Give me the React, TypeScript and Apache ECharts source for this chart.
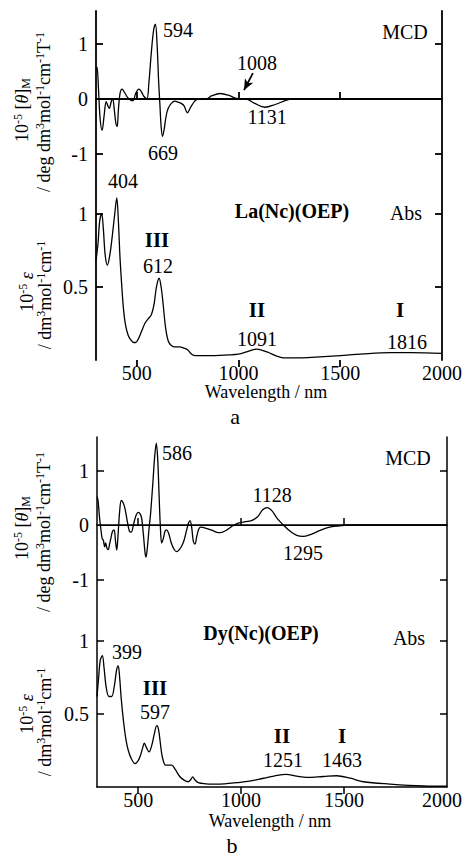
import React, { useEffect, useRef } from "react";
import * as echarts from "echarts";

// ---------- data (wavelength nm / value) ----------
const xTicks = [500, 1000, 1500];
const xLabels = [500, 1000, 1500, 2000];
const mcdTicks = [-1, 1];
const mcdLabels = [-1, 0, 1];
const absTicks = [0.5, 1];

// Panel a : La(Nc)(OEP)
const aMcdNm = [300, 305, 312, 320, 330, 340, 350, 358, 366, 374, 382, 390, 398, 404, 410, 418, 428, 440, 455, 470, 482, 495, 510, 522, 535, 550, 560, 572, 583, 592, 600, 608, 614, 620, 627, 635, 645, 655, 670, 688, 705, 718, 732, 749, 765, 785, 800, 840, 870, 910, 950, 990, 1040, 1080, 1130, 1180, 1230, 1260, 2000];
const aMcdVal = [0.55, 0.58, 0.2, -0.35, -0.57, -0.3, -0.05, -0.12, -0.17, -0.06, 0.0, -0.2, -0.45, -0.5, -0.2, 0.1, 0.18, 0.12, 0.03, -0.02, -0.03, 0.1, 0.18, 0.14, 0.05, 0.0, 0.3, 0.85, 1.25, 1.36, 1.0, 0.3, -0.1, -0.5, -0.68, -0.55, -0.3, -0.17, -0.08, -0.04, -0.06, -0.08, -0.12, -0.25, -0.15, -0.04, 0.0, 0.0, 0.06, 0.1, 0.07, 0.01, 0.0, -0.08, -0.15, -0.1, -0.03, 0, 0];
const aAbsNm = [300, 310, 318, 328, 336, 345, 356, 368, 380, 392, 402, 410, 418, 426, 435, 445, 458, 470, 485, 495, 510, 525, 540, 555, 572, 585, 597, 610, 620, 630, 642, 655, 670, 690, 710, 735, 750, 770, 790, 850, 950, 1000, 1040, 1090, 1140, 1190, 1220, 1300, 1380, 1500, 1600, 1745, 1850, 2000];
const aAbsVal = [0.68, 0.8, 0.95, 1.0, 0.9, 0.72, 0.65, 0.72, 0.85, 1.0, 1.11, 0.95, 0.7, 0.52, 0.35, 0.24, 0.17, 0.14, 0.12, 0.12, 0.15, 0.2, 0.25, 0.28, 0.31, 0.38, 0.5, 0.56, 0.5, 0.38, 0.22, 0.13, 0.1, 0.09, 0.09, 0.08, 0.07, 0.04, 0.03, 0.03, 0.035, 0.04, 0.055, 0.075, 0.055, 0.025, 0.015, 0.015, 0.02, 0.03, 0.04, 0.05, 0.05, 0.045];
const aArrow = [[1071, 0.47], [1027, 0.16]];

// Panel b : Dy(Nc)(OEP)
const bMcdNm = [300, 305, 312, 318, 325, 331, 337, 342, 348, 355, 361, 367, 375, 383, 390, 396, 402, 410, 418, 428, 436, 448, 458, 466, 478, 490, 501, 510, 517, 526, 533, 538, 545, 552, 560, 570, 580, 588, 595, 602, 608, 614, 622, 630, 638, 648, 660, 675, 687, 700, 712, 723, 735, 745, 752, 760, 768, 776, 785, 795, 805, 830, 860, 890, 910, 935, 962, 990, 1020, 1050, 1080, 1105, 1127, 1150, 1175, 1205, 1240, 1270, 1300, 1340, 1390, 1430, 1464, 1520, 2000];
const bMcdVal = [0.52, 0.45, 0.15, -0.05, -0.25, -0.28, -0.4, -0.33, -0.42, -0.45, -0.35, -0.25, -0.12, -0.09, -0.3, -0.46, -0.2, 0.25, 0.45, 0.4, 0.3, 0.05, -0.12, -0.13, 0.02, 0.18, 0.23, 0.2, 0.12, -0.2, -0.5, -0.59, -0.4, -0.1, 0.2, 0.7, 1.25, 1.5, 1.2, 0.5, -0.05, -0.33, -0.25, -0.12, -0.09, -0.15, -0.32, -0.45, -0.49, -0.45, -0.38, -0.28, -0.1, 0.04, 0.08, -0.05, -0.3, -0.35, -0.2, -0.07, -0.04, -0.06, -0.1, -0.14, -0.13, -0.08, -0.01, 0.04, 0.06, 0.08, 0.15, 0.28, 0.32, 0.26, 0.12, 0.0, -0.12, -0.19, -0.21, -0.17, -0.09, -0.04, -0.02, 0, 0];
const bAbsNm = [300, 308, 316, 326, 334, 345, 358, 371, 385, 395, 403, 410, 418, 428, 440, 452, 468, 485, 500, 512, 522, 530, 540, 553, 565, 578, 590, 598, 606, 614, 622, 632, 650, 663, 680, 703, 725, 743, 755, 765, 775, 792, 830, 864, 920, 979, 1040, 1108, 1160, 1218, 1270, 1318, 1400, 1464, 1530, 1594, 1723, 1885, 2000];
const bAbsVal = [0.62, 0.75, 0.87, 0.9, 0.82, 0.68, 0.62, 0.62, 0.7, 0.8, 0.83, 0.75, 0.6, 0.46, 0.33, 0.25, 0.19, 0.16, 0.18, 0.22, 0.27, 0.3, 0.27, 0.24, 0.28, 0.36, 0.42, 0.4, 0.32, 0.23, 0.18, 0.15, 0.15, 0.15, 0.12, 0.07, 0.045, 0.036, 0.05, 0.07, 0.05, 0.03, 0.022, 0.02, 0.022, 0.03, 0.04, 0.06, 0.075, 0.087, 0.075, 0.066, 0.072, 0.077, 0.06, 0.036, 0.02, 0.007, 0.005];

const zip = (xs: number[], ys: number[]) => xs.map((x, i) => [x, ys[i]]);

const FONT = "Liberation Serif";
const BLACK = "#000";

type Panel = {
  left: number; right: number; top: number; height: number;
  mcd0: number; mcdScale: number; absScale: number; topLine: boolean; frameW: number; maxShift: number;
};

const panels: Panel[] = [
  { left: 96, right: 23, top: 11, height: 349, mcd0: 99, mcdScale: 55, absScale: 146, topLine: false, frameW: 1.8, maxShift: 0 },
  { left: 97, right: 18, top: 437, height: 350, mcd0: 525, mcdScale: 54.5, absScale: 146, topLine: true, frameW: 1.5, maxShift: 10 },
];

const fmt = (v: number) => (v < 0 ? "-" + Math.abs(v) : String(v));

function buildOption() {
  const grid: any[] = [];
  const xAxis: any[] = [];
  const yAxis: any[] = [];
  panels.forEach((p, i) => {
    grid.push({ left: p.left, right: p.right, top: p.top, height: p.height, containLabel: false, outerBoundsMode: "none" });
    const line = { lineStyle: { color: BLACK, width: p.frameW } };
    const tick = (vals: number[]) => ({ show: true, inside: true, length: 7, customValues: vals, lineStyle: { color: BLACK, width: p.frameW } });
    xAxis.push({
      gridIndex: i, type: "value", min: 300, max: 2000, position: "bottom",
      axisLine: line, axisTick: tick(xTicks), splitLine: { show: false },
      axisLabel: {
        customValues: xLabels,
        formatter: (v: number) => (v === 2000 && p.maxShift ? "{m|" + v + "}" : String(v)),
        rich: { m: { fontFamily: FONT, fontSize: 20, color: BLACK, padding: [0, p.maxShift, 0, 0] } },
        fontFamily: FONT, fontSize: 20, color: BLACK, margin: 3,
      },
    });
    xAxis.push({
      gridIndex: i, type: "value", min: 300, max: 2000, position: "top",
      axisLine: { show: p.topLine, lineStyle: { color: BLACK, width: p.frameW } },
      axisTick: tick(xTicks), axisLabel: { show: false }, splitLine: { show: false },
    });
    const bottomPx = p.top + p.height;
    const mcdMax = (p.mcd0 - p.top) / p.mcdScale;
    const mcdMin = -(bottomPx - p.mcd0) / p.mcdScale;
    const absMax = p.height / p.absScale;
    yAxis.push({
      gridIndex: i, type: "value", min: mcdMin, max: mcdMax, position: "left",
      axisLine: { show: true, onZero: false, lineStyle: { color: BLACK, width: p.frameW } },
      axisTick: tick(mcdTicks), splitLine: { show: false },
      axisLabel: { customValues: mcdLabels, formatter: fmt, fontFamily: FONT, fontSize: 20, color: BLACK, margin: 8 },
    });
    yAxis.push({
      gridIndex: i, type: "value", min: 0, max: absMax, position: "left",
      axisLine: { show: false }, axisTick: tick(absTicks), splitLine: { show: false },
      axisLabel: { customValues: absTicks, formatter: fmt, fontFamily: FONT, fontSize: 20, color: BLACK, margin: 8 },
    });
    yAxis.push({
      gridIndex: i, type: "value", min: mcdMin, max: mcdMax, position: "right",
      axisLine: { show: true, onZero: false, lineStyle: { color: BLACK, width: p.frameW } },
      axisTick: tick(mcdTicks), axisLabel: { show: false }, splitLine: { show: false },
    });
    yAxis.push({
      gridIndex: i, type: "value", min: 0, max: absMax, position: "right",
      axisLine: { show: false }, axisTick: tick(absTicks), axisLabel: { show: false }, splitLine: { show: false },
    });
  });

  const lineSeries = (data: number[][], xi: number, yi: number, w: number, extra: any = {}) => ({
    type: "line", data, xAxisIndex: xi, yAxisIndex: yi, symbol: "none", showSymbol: false,
    smooth: 0.35, lineStyle: { color: BLACK, width: w }, silent: true, z: 3, ...extra,
  });

  const series: any[] = [
    lineSeries(zip(aMcdNm, aMcdVal), 0, 0, 1.3, {
      markLine: {
        silent: true, symbol: "none", animation: false,
        label: { show: false },
        lineStyle: { color: BLACK, width: 1.8, type: "solid" },
        data: [
          { yAxis: 0 },
          [
            { coord: aArrow[0], symbol: "none" },
            { coord: aArrow[1], symbol: "arrow", symbolSize: [7, 11] },
          ],
        ],
      },
    }),
    lineSeries(zip(aAbsNm, aAbsVal), 0, 1, 1.3),
    lineSeries(zip(bMcdNm, bMcdVal), 2, 4, 1.3, {
      markLine: {
        silent: true, symbol: "none", animation: false, label: { show: false },
        lineStyle: { color: BLACK, width: 1.2, type: "solid" },
        data: [{ yAxis: 0 }],
      },
    }),
    lineSeries(zip(bAbsNm, bAbsVal), 2, 5, 1.3),
  ];

  const t = (text: string, x: number, y: number, size = 19, bold = false, align = "center") => ({
    type: "text", x, y, silent: true, z: 10,
    style: { text, fontFamily: FONT, fontSize: size, fontWeight: bold ? "bold" : "normal", fill: BLACK, align, verticalAlign: "middle" },
  });
  const rich = {
    sup: { fontSize: 12, fontFamily: FONT, verticalAlign: "top", lineHeight: 20 },
    sub: { fontSize: 12, fontFamily: FONT, verticalAlign: "bottom", lineHeight: 20 },
    it: { fontSize: 18, fontFamily: FONT, fontStyle: "italic", lineHeight: 20 },
    n: { fontSize: 18, fontFamily: FONT, lineHeight: 20 },
  };
  const rt = (text: string, x: number, y: number) => ({
    type: "text", x, y, rotation: Math.PI / 2, silent: true, z: 10,
    style: { text, rich, fontFamily: FONT, fontSize: 18, fill: BLACK, align: "center", verticalAlign: "middle" },
  });
  const mcdT1 = "{n|10}{sup|-5}{n| [}{it|θ}{n|]}{sub|M}";
  const mcdT2 = "{n|/ deg dm}{sup|3}{n|mol}{sup|-1}{n|cm}{sup|-1}{n|T}{sup|-1}";
  const absT1 = "{n|10}{sup|-5}{n| }{it|ε}";
  const absT2 = "{n|/ dm}{sup|3}{n|mol}{sup|-1}{n|cm}{sup|-1}";

  const graphic: any[] = [
    // panel a
    t("594", 163, 30, 20, false, "left"),
    t("MCD", 405, 32, 20),
    t("1008", 257, 63, 20),
    t("1131", 267, 117, 20),
    t("669", 163, 153, 20),
    t("404", 123, 181, 20),
    t("La(Nc)(OEP)", 292, 211, 20, true),
    t("Abs", 406, 213, 20),
    t("III", 157, 240, 21, true),
    t("612", 158, 266, 20),
    t("II", 257, 310, 21, true),
    t("1091", 257, 339, 20),
    t("I", 400, 310, 21, true),
    t("1816", 407, 342, 20),
    t("Wavelength / nm", 266, 392, 18),
    t("a", 235, 416, 22),
    rt(mcdT1, 22, 110), rt(mcdT2, 44, 112),
    rt(absT1, 27, 292), rt(absT2, 45, 295),
    // panel b
    t("586", 162, 453, 20, false, "left"),
    t("MCD", 408, 458, 20),
    t("1128", 272, 495, 20),
    t("1295", 303, 553, 20),
    t("Dy(Nc)(OEP)", 261, 633, 20, true),
    t("Abs", 409, 638, 20),
    t("399", 127, 652, 20),
    t("III", 155, 688, 21, true),
    t("597", 155, 712, 20),
    t("II", 282, 736, 21, true),
    t("1251", 283, 760, 20),
    t("I", 342, 736, 21, true),
    t("1463", 342, 760, 20),
    t("Wavelength / nm", 270, 821, 18),
    t("b", 232, 845, 22),
    rt(mcdT1, 22, 528), rt(mcdT2, 44, 532),
    rt(absT1, 27, 714), rt(absT2, 45, 722),
  ];

  return { animation: false, backgroundColor: "#fff", grid, xAxis, yAxis, series, graphic };
}

export default function App() {
  const ref = useRef<HTMLDivElement>(null);
  useEffect(() => {
    if (!ref.current) return;
    const chart = echarts.init(ref.current, null, { renderer: "svg" });
    chart.setOption(buildOption() as any);
    return () => chart.dispose();
  }, []);
  return <div ref={ref} style={{ position: "absolute", left: 0, top: 0, width: 465, height: 857, background: "#fff" }} />;
}
